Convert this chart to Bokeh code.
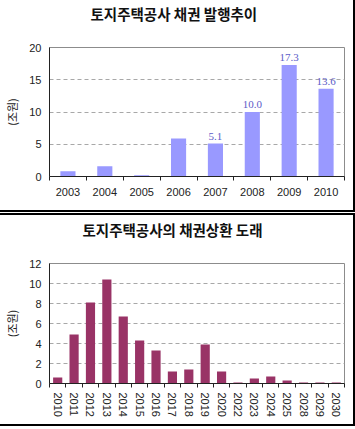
from bokeh.plotting import figure
from bokeh.models import ColumnDataSource, FixedTicker, Range1d, LabelSet, Title
from bokeh.layouts import column
from bokeh.embed import file_html
from bokeh.resources import INLINE

# ---- data: bond issuance ----
issue_title = "토지주택공사 채권 발행추이"
issue_years = ["2003", "2004", "2005", "2006", "2007", "2008", "2009", "2010"]
issue_values = [0.8, 1.6, 0.2, 5.9, 5.1, 10.0, 17.3, 13.6]
issue_labeled = ["2007", "2008", "2009", "2010"]
issue_yticks = [0, 5, 10, 15, 20]

# ---- data: bond redemption schedule ----
repay_title = "토지주택공사의 채권상환 도래"
repay_years = ["2010", "2011", "2012", "2013", "2014", "2015", "2016", "2017", "2018",
               "2019", "2020", "2022", "2023", "2024", "2025", "2028", "2029", "2030"]
repay_values = [0.6, 4.9, 8.1, 10.4, 6.7, 4.3, 3.3, 1.2, 1.4,
                3.9, 1.2, 0.1, 0.5, 0.7, 0.3, 0.1, 0.1, 0.1]
repay_yticks = [0, 2, 4, 6, 8, 10, 12]

unit_label = "(조원)"

TICK_FONT = "Liberation Sans"
KR_FONT = "Noto Sans CJK KR"


def style_fig(p, title, years, yticks, title_left):
    n = len(years)
    p.title = None
    # spacer between frame and title (closest to the frame)
    p.add_layout(Title(text=" ", text_font_size="20px", standoff=0), "above")
    p.add_layout(Title(text=title, align="left", offset=title_left, standoff=0,
                       text_font=KR_FONT, text_font_size="14.5px", text_font_style="bold",
                       text_color="#111111"), "above")

    p.outline_line_color = "#8c8c8c"
    p.outline_line_width = 1
    p.xgrid.visible = False
    p.ygrid.grid_line_color = "#a8a8a8"
    p.ygrid.grid_line_dash = "4 3"
    p.ygrid.grid_line_width = 1

    p.yaxis.ticker = FixedTicker(ticks=yticks)
    p.yaxis.axis_line_color = "#222222"
    p.yaxis.major_tick_out = 0
    p.yaxis.major_tick_in = 0
    p.yaxis.minor_tick_out = 0
    p.yaxis.minor_tick_in = 0
    p.yaxis.major_label_text_font = TICK_FONT
    p.yaxis.major_label_text_font_size = "11px"
    p.yaxis.major_label_text_color = "#222222"
    p.yaxis.major_label_standoff = 8
    p.yaxis.axis_label = unit_label
    p.yaxis.axis_label_text_font = KR_FONT
    p.yaxis.axis_label_text_font_size = "11px"
    p.yaxis.axis_label_text_font_style = "normal"
    p.yaxis.axis_label_text_color = "#222222"
    p.yaxis.axis_label_standoff = 6

    p.xaxis.ticker = FixedTicker(ticks=list(range(n)),
                                 minor_ticks=[i - 0.5 for i in range(n + 1)])
    p.xaxis.major_label_overrides = {i: y for i, y in enumerate(years)}
    p.xaxis.axis_line_color = "#222222"
    p.xaxis.major_tick_out = 0
    p.xaxis.major_tick_in = 0
    p.xaxis.minor_tick_out = 4
    p.xaxis.minor_tick_in = 0
    p.xaxis.minor_tick_line_color = "#222222"
    p.xaxis.major_label_text_font = TICK_FONT
    p.xaxis.major_label_text_font_size = "11px"
    p.xaxis.major_label_text_color = "#222222"


# ---- top chart ----
n1 = len(issue_years)
src1 = ColumnDataSource(dict(
    x=list(range(n1)),
    v=issue_values,
    lbl=[f"{v:.1f}" if y in issue_labeled else "" for y, v in zip(issue_years, issue_values)],
))
p1 = figure(width=353, height=210, output_backend="svg", toolbar_location=None,
            x_range=Range1d(-0.5, n1 - 0.5), y_range=Range1d(0, issue_yticks[-1]),
            min_border_left=49, min_border_right=8, min_border_top=47, min_border_bottom=34,
            background_fill_color="white", border_fill_color="white")
style_fig(p1, issue_title, issue_years, issue_yticks, 41)
p1.xaxis.major_label_standoff = 7
p1.vbar(x="x", top="v", width=0.41, source=src1, fill_color="#9999ff", line_color=None)
p1.add_layout(LabelSet(x="x", y="v", text="lbl", source=src1, text_align="center",
                       text_baseline="bottom", y_offset=4, text_font=TICK_FONT,
                       text_font_size="11px", text_color="#5c5cc8"))
p1.styles = {"box-shadow": "2px 0 0 0 #000, 0 2px 0 0 #000, 2px 2px 0 0 #000"}

# ---- bottom chart ----
n2 = len(repay_years)
src2 = ColumnDataSource(dict(x=list(range(n2)), v=repay_values))
p2 = figure(width=353, height=209, output_backend="svg", toolbar_location=None,
            x_range=Range1d(-0.5, n2 - 0.5), y_range=Range1d(0, repay_yticks[-1]),
            min_border_left=49, min_border_right=9, min_border_top=48, min_border_bottom=41,
            background_fill_color="white", border_fill_color="white")
style_fig(p2, repay_title, repay_years, repay_yticks, 33)
p2.xaxis.major_label_orientation = "vertical"
p2.xaxis.major_label_standoff = 5
p2.vbar(x="x", top="v", width=0.56, source=src2, fill_color="#993366", line_color=None)
p2.styles = {"box-shadow": "2px 0 0 0 #000, 0 2px 0 0 #000, 2px 2px 0 0 #000, "
                           "0 -2px 0 0 #000, 2px -2px 0 0 #000"}

layout = column(p1, p2, spacing=5)
open("out.html", "w").write(file_html(layout, INLINE))
